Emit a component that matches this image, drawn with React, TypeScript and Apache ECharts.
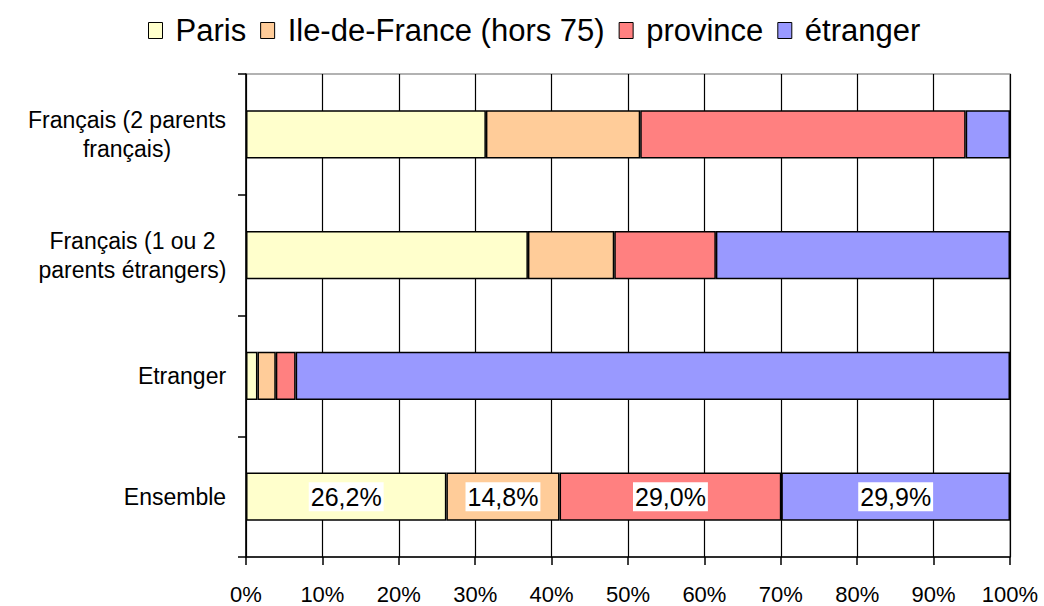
import React, { useEffect, useRef } from "react";
import * as echarts from "echarts";

const categories = [
  "Français (2 parents\nfrançais)",
  "Français (1 ou 2\nparents étrangers)",
  "Etranger",
  "Ensemble",
];
const seriesNames = ["Paris", "Ile-de-France (hors 75)", "province", "étranger"];
const paris = [31.4, 36.9, 1.5, 26.2];
const idf = [20.2, 11.3, 2.4, 14.8];
const province = [42.6, 13.3, 2.6, 29.0];
const etranger = [5.8, 38.5, 93.5, 29.9];
const colors = ["#FFFFCC", "#FFCC99", "#FF8080", "#9999FF"];
const labelledCategory = "Ensemble";
const xTicks = [0, 0.1, 0.2, 0.3, 0.4, 0.5, 0.6, 0.7, 0.8, 0.9, 1];

const FONT = "'Liberation Sans', Arial, sans-serif";
const Y_FONT_SIZE = 23;

function measure(text: string, size: number): number {
  const c = document.createElement("canvas");
  const ctx = c.getContext("2d");
  if (!ctx) return text.length * size * 0.5;
  ctx.font = `${size}px ${FONT}`;
  return ctx.measureText(text).width;
}

export default function App() {
  const ref = useRef<HTMLDivElement>(null);
  useEffect(() => {
    if (!ref.current) return;
    const chart = echarts.init(ref.current, null, { renderer: "svg" });
    const all = [paris, idf, province, etranger];
    const sums = categories.map((_, i) => all.reduce((s, arr) => s + arr[i], 0));

    const rich: Record<string, any> = {};
    categories.forEach((c, i) => {
      const w = Math.ceil(Math.max(...c.split("\n").map((l) => measure(l, Y_FONT_SIZE)))) + 1;
      rich["c" + i] = {
        width: w,
        align: "center",
        fontSize: Y_FONT_SIZE,
        lineHeight: 29,
        fontFamily: FONT,
        color: "#000",
      };
    });

    const series = all.map((arr, si) => ({
      name: seriesNames[si],
      type: "bar",
      stack: "total",
      barWidth: "40%",
      itemStyle: { color: colors[si], borderColor: "#000", borderWidth: 1.5 },
      data: arr.map((v, i) => ({
        value: v / sums[i],
        label: {
          show: categories[i] === labelledCategory,
          position: "inside",
          formatter: () => v.toFixed(1).replace(".", ",") + "%",
          backgroundColor: "#fff",
          color: "#000",
          fontSize: 25,
          fontFamily: FONT,
          padding: [3, 2, 1, 2],
        },
      })),
    }));
    chart.setOption({
      animation: false,
      backgroundColor: "#fff",
      legend: {
        top: 10,
        left: 143,
        icon: "rect",
        itemWidth: 14,
        itemHeight: 16,
        itemGap: 14,
        itemStyle: { borderColor: "#000", borderWidth: 1 },
        textStyle: { fontSize: 31, fontFamily: FONT, color: "#000", padding: [0, 0, 0, 8] },
        data: seriesNames,
      },
      grid: {
        left: 246,
        right: 34,
        top: 74,
        bottom: 49,
        show: true,
        borderColor: "#999",
        borderWidth: 1.5,
      },
      xAxis: {
        type: "value",
        min: 0,
        max: 1,
        interval: 0.1,
        axisLine: { show: true, lineStyle: { color: "#000", width: 1.5 } },
        axisTick: { show: true, length: 8, lineStyle: { color: "#000", width: 1.5 } },
        splitLine: { show: true, lineStyle: { color: "#000", width: 1.2 } },
        axisLabel: {
          margin: 26,
          fontSize: 22,
          fontFamily: FONT,
          color: "#000",
          formatter: (v: number) => {
            const m = xTicks.find((t) => Math.abs(t - v) < 1e-6);
            return m === undefined ? "" : Math.round(m * 100) + "%";
          },
        },
      },
      yAxis: {
        type: "category",
        inverse: true,
        data: categories,
        axisLine: { show: true, lineStyle: { color: "#000", width: 1.5 } },
        axisTick: { show: true, length: 8, lineStyle: { color: "#000", width: 1.5 } },
        axisLabel: {
          margin: 19,
          align: "right",
          rich,
          formatter: (value: string, index: number) =>
            value
              .split("\n")
              .map((l) => `{c${index}|${l}}`)
              .join("\n"),
        },
      },
      series,
    });
    return () => chart.dispose();
  }, []);
  return (
    <div
      ref={ref}
      style={{ position: "fixed", left: 0, top: 0, width: 1044, height: 606 }}
    />
  );
}
